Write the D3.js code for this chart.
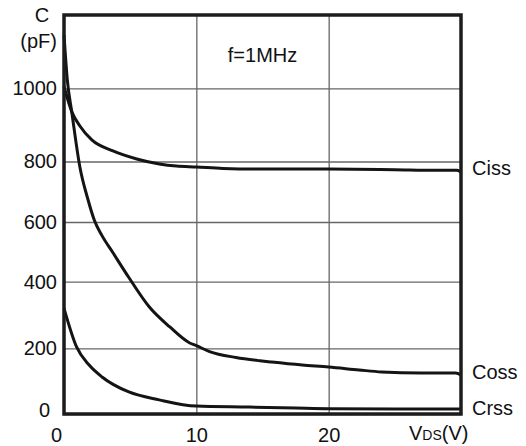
<!DOCTYPE html>
<html>
<head>
<meta charset="utf-8">
<script src="https://cdn.jsdelivr.net/npm/d3@7"></script>
<style>
  body { margin: 0; background: #fff; }
  svg text { font-family: "Liberation Sans", Arial, Helvetica, sans-serif; fill: #111; }
</style>
</head>
<body>
<div id="chart"></div>
<script>
// capacitance vs drain-source voltage
const xTicks = [0, 10, 20];
const yTicks = [0, 200, 400, 600, 800, 1000];
const seriesNames = ["Ciss", "Coss", "Crss"];

const cissV = [0, 0.6, 1.2, 2.1, 3.7, 5.5, 7.2, 8.5, 10, 12, 15, 20, 25, 28, 29.7, 30];
const cissC = [1005, 935, 897, 859, 829, 807, 792, 785, 782, 777, 775, 775, 773, 771, 771, 765];

const cossV = [0, 0.25, 0.6, 1.2, 1.8, 2.3, 2.85, 3.7, 4.9, 6.45, 8, 9.5, 10, 11, 13, 14.8, 15.7, 18, 20, 22.3, 24, 27, 29.6, 30];
const cossC = [1145, 1023, 932, 782, 676, 605, 556, 497, 414, 324, 264, 216, 208, 190, 172, 162, 158, 149, 143, 134, 128, 125, 125, 119];

const crssV = [0, 0.95, 1.9, 2.9, 4.9, 7.2, 10, 14, 17.5, 20, 25, 30];
const crssC = [320, 204, 149, 112, 67, 43, 24, 21, 18, 16, 15, 15];

const margin = { top: 15, right: 65, bottom: 32, left: 64 },
    width = 526 - margin.left - margin.right,
    height = 446 - margin.top - margin.bottom;

const svg = d3.select("#chart")
    .append("svg")
    .attr("width", 526)
    .attr("height", 446)
    .append("g")
    .attr("transform", "translate(" + margin.left + "," + margin.top + ")");

const x = d3.scaleLinear().domain([0, 30]).range([0, width]);
// the scanned grid isn't evenly spaced, so the y scale is piecewise
const y = d3.scaleLinear()
    .domain([0, 200, 400, 600, 800, 1000, 1200])
    .range([height, height - 65.7, height - 132.3, height - 192, height - 252.5, height - 325.7, 0]);

// grid + tick labels
const xAxis = svg.append("g")
    .attr("transform", `translate(0, ${height})`)
    .call(d3.axisBottom(x).tickValues(xTicks).tickSize(-height).tickPadding(14).tickFormat(d3.format("d")));

const yAxis = svg.append("g")
    .call(d3.axisLeft(y).tickValues(yTicks).tickSize(-width).tickPadding(7).tickFormat(d3.format("d")));

[xAxis, yAxis].forEach(function (a) {
    a.select(".domain").remove();
    a.selectAll("line").attr("stroke", "#666").attr("stroke-width", 1.3);
    a.selectAll("text").style("font-size", "20px").attr("fill", "#111");
});
xAxis.selectAll("text").filter(d => d === 0).attr("dx", "-8");
yAxis.selectAll("text").filter(d => d === 0).attr("dx", "-7").attr("dy", "0.1em");

// curves
const series = [
    { name: seriesNames[0], v: cissV, c: cissC, dy: -4 },
    { name: seriesNames[1], v: cossV, c: cossC, dy: -3 },
    { name: seriesNames[2], v: crssV, c: crssC, dy: -1 }
];

const line = d3.line()
    .x(function (d) { return x(d[0]); })
    .y(function (d) { return y(d[1]); })
    .curve(d3.curveMonotoneX);

series.forEach(function (s) {
    const pts = s.v.map((v, i) => [v, s.c[i]]);
    svg.append("path")
        .datum(pts)
        .attr("d", line)
        .attr("fill", "none")
        .attr("stroke", "#141414")
        .attr("stroke-width", 3)
        .attr("stroke-linejoin", "round");

    svg.append("text")
        .text(s.name)
        .attr("x", width + 11)
        .attr("y", y(s.c[s.c.length - 1]) + s.dy)
        .attr("dy", "0.35em")
        .style("font-size", "20px");
});

// frame
svg.append("rect")
    .attr("width", width)
    .attr("height", height)
    .attr("fill", "none")
    .attr("stroke", "#1c1c1c")
    .attr("stroke-width", 3.5);

// axis titles
svg.append("text")
    .text("C")
    .attr("x", -22)
    .attr("y", 7)
    .style("text-anchor", "middle")
    .style("font-size", "20px");

svg.append("text")
    .text("(pF)")
    .attr("x", -7)
    .attr("y", 33)
    .style("text-anchor", "end")
    .style("font-size", "20px");

const vds = svg.append("text")
    .attr("x", width - 52)
    .attr("y", height + 26)
    .style("font-size", "20px");
vds.append("tspan").text("V");
vds.append("tspan").text("DS").style("font-size", "14px");
vds.append("tspan").text("(V)");

svg.append("text")
    .text("f=1MHz")
    .attr("x", x(15))
    .attr("y", 47)
    .style("text-anchor", "middle")
    .style("font-size", "20px");
</script>
</body>
</html>
